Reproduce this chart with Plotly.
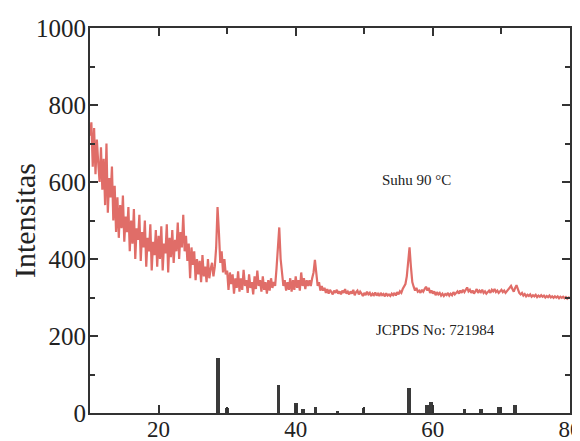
import numpy as np
import plotly.graph_objects as go

# 2-theta grid start/step for the measured pattern (0.2 deg steps, 10 -> 80)
two_theta_start = 10.0
two_theta_step = 0.2

intensity = [
    720, 755, 640, 740, 620, 710, 650, 600, 690, 580,   # 10.0-11.8
    660, 540, 700, 520, 610, 560, 640, 500, 590, 470,   # 12.0-13.8
    560, 455, 540, 480, 565, 445, 510, 470, 535, 420,   # 14.0-15.8
    500, 440, 530, 400, 480, 450, 515, 395, 470, 430,   # 16.0-17.8
    500, 380, 455, 420, 490, 370, 445, 410, 475, 380,   # 18.0-19.8
    460, 400, 485, 370, 440, 415, 490, 365, 455, 405,   # 20.0-21.8
    475, 390, 450, 420, 495, 400, 470, 430, 515, 420,   # 22.0-23.8
    460, 395, 440, 350, 430, 385, 420, 345, 400, 360,   # 24.0-25.8
    395, 340, 410, 355, 380, 340, 400, 350, 375, 390,   # 26.0-27.8
    355, 380, 430, 535, 470, 390, 420, 365, 400, 360,   # 28.0-29.8
    370, 320, 365, 335, 360, 310, 350, 325, 368, 315,   # 30.0-31.8
    350, 320, 372, 330, 345, 312, 360, 325, 340, 308,   # 32.0-33.8
    355, 322, 370, 330, 345, 315, 355, 320, 340, 310,   # 34.0-35.8
    345, 318, 350, 325, 340, 330, 375, 445, 482, 400,   # 36.0-37.8
    355, 330, 345, 318, 340, 320, 350, 315, 345, 320,   # 38.0-39.8
    355, 325, 345, 318, 365, 330, 350, 322, 345, 330,   # 40.0-41.8
    345, 330, 350, 365, 398, 355, 330, 340, 318, 330,   # 42.0-43.8
    318, 325, 312, 322, 310, 320, 315, 308, 318, 312,   # 44.0-45.8
    320, 310, 316, 308, 318, 312, 322, 310, 315, 308,   # 46.0-47.8
    316, 310, 320, 306, 314, 318, 308, 315, 310, 304,   # 48.0-49.8
    312, 306, 315, 308, 312, 304, 310, 306, 313, 305,   # 50.0-51.8
    310, 304, 312, 306, 309, 303, 311, 305, 308, 304,   # 52.0-53.8
    310, 306, 312, 305, 314, 308, 316, 312, 322, 330,   # 54.0-55.8
    335, 355, 395, 430, 380, 340, 328, 318, 325, 315,   # 56.0-57.8
    318, 312, 320, 315, 322, 328, 318, 325, 312, 318,   # 58.0-59.8
    310, 316, 306, 314, 308, 312, 305, 310, 304, 309,   # 60.0-61.8
    306, 312, 305, 310, 306, 314, 308, 312, 316, 310,   # 62.0-63.8
    318, 312, 320, 314, 322, 326, 316, 320, 312, 318,   # 64.0-65.8
    310, 315, 322, 312, 318, 314, 320, 312, 316, 310,   # 66.0-67.8
    314, 318, 312, 320, 316, 322, 314, 318, 312, 316,   # 68.0-69.8
    320, 314, 318, 312, 316, 320, 324, 330, 322, 315,   # 70.0-71.8
    325, 332, 322, 312, 308, 312, 305, 309, 303, 307,   # 72.0-73.8
    304, 308, 302, 306, 303, 307, 301, 305, 302, 306,   # 74.0-75.8
    302, 305, 300, 304, 301, 305, 300, 303, 299, 303,   # 76.0-77.8
    300, 303, 298, 302, 299, 302, 298, 301, 297, 300,   # 78.0-79.8
    299,                                                # 80.0
]
two_theta = [round(two_theta_start + i * two_theta_step, 1) for i in range(len(intensity))]

# JCPDS No: 721984 reference sticks
jcpds_pos = [28.7, 30.0, 37.5, 40.0, 41.1, 42.9, 46.1, 49.9, 56.5, 59.1, 59.7, 64.6, 67.0, 69.6, 72.0]
jcpds_int = [142, 13, 73, 27, 10, 16, 6, 14, 64, 21, 29, 10, 10, 16, 21]

x_ticks = [20, 40, 60, 80]
y_ticks = [0, 200, 400, 600, 800, 1000]

fig = go.Figure()
fig.add_trace(go.Scatter(
    x=two_theta, y=intensity, mode="lines",
    line=dict(color="#e06d68", width=2.2),
    showlegend=False,
))
fig.add_trace(go.Bar(
    x=jcpds_pos, y=jcpds_int, width=0.55,
    marker=dict(color="#3a3a3a", line=dict(width=0)),
    showlegend=False,
))

axis_common = dict(
    showline=True, linecolor="#333333", linewidth=2, mirror="ticks",
    ticks="inside", ticklen=8, tickwidth=1.5, tickcolor="#333333",
    showgrid=False, zeroline=False, automargin=False,
    ticklabeloverflow="allow",
)

# the page body adds an 8px offset, so the figure is sized to fit the window
fig.update_layout(
    width=572, height=433,
    margin=dict(l=82, r=10, t=20, b=28),
    paper_bgcolor="white", plot_bgcolor="white",
    bargap=0,
    xaxis=dict(range=[10, 80], tickvals=x_ticks, ticktext=[str(v) for v in x_ticks],
               minor=dict(dtick=10, tick0=10, ticks="inside", ticklen=6, tickcolor="#333333"),
               tickfont=dict(family="Liberation Serif", size=23, color="#222222"),
               ticklabelstandoff=-6,
               **axis_common),
    yaxis=dict(range=[0, 1000], tickvals=y_ticks, ticktext=[str(v) for v in y_ticks],
               minor=dict(dtick=100, tick0=0, ticks="inside", ticklen=5, tickcolor="#333333"),
               tickfont=dict(family="Liberation Serif", size=25, color="#222222"),
               ticklabelstandoff=-3,
               title=dict(text="Intensitas", font=dict(family="Liberation Serif", size=30, color="#222222"),
                          standoff=4),
               **axis_common),
    annotations=[
        dict(x=57.6, y=605, text="Suhu 90 °C", showarrow=False,
             font=dict(family="Liberation Serif", size=15, color="#222222")),
        dict(x=60.4, y=215, text="JCPDS No: 721984", showarrow=False,
             font=dict(family="Liberation Serif", size=15, color="#222222")),
    ],
)

fig.write_html("out.html")
